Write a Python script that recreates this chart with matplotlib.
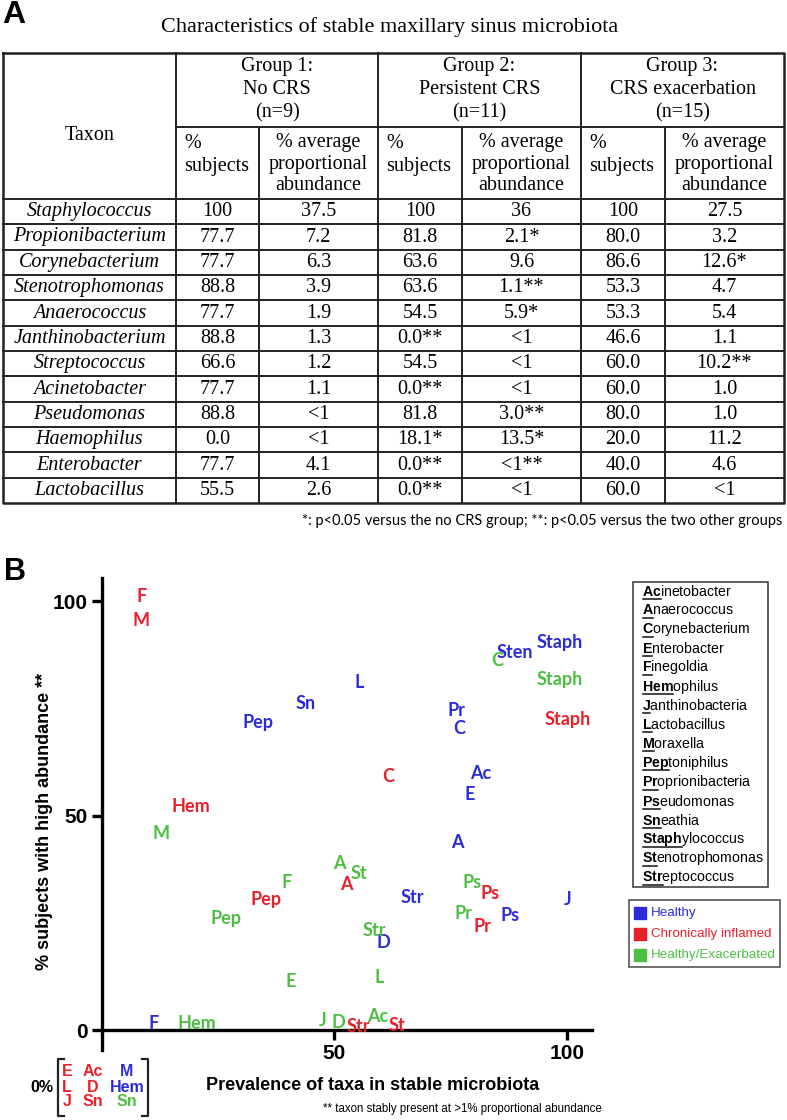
import numpy as np
import matplotlib
matplotlib.use('Agg')
import matplotlib.pyplot as plt

plt.rcParams['mathtext.fontset'] = 'custom'
plt.rcParams['mathtext.rm'] = 'Liberation Sans'
plt.rcParams['mathtext.bf'] = 'Liberation Sans:bold'
plt.rcParams['mathtext.it'] = 'Liberation Sans:italic'

# ---- panel A: table data ----
taxa = ['Staphylococcus', 'Propionibacterium', 'Corynebacterium', 'Stenotrophomonas',
        'Anaerococcus', 'Janthinobacterium', 'Streptococcus', 'Acinetobacter',
        'Pseudomonas', 'Haemophilus', 'Enterobacter', 'Lactobacillus']
g1_subj = ['100', '77.7', '77.7', '88.8', '77.7', '88.8', '66.6', '77.7', '88.8', '0.0', '77.7', '55.5']
g1_abund = ['37.5', '7.2', '6.3', '3.9', '1.9', '1.3', '1.2', '1.1', '<1', '<1', '4.1', '2.6']
g2_subj = ['100', '81.8', '63.6', '63.6', '54.5', '0.0**', '54.5', '0.0**', '81.8', '18.1*', '0.0**', '0.0**']
g2_abund = ['36', '2.1*', '9.6', '1.1**', '5.9*', '<1', '<1', '<1', '3.0**', '13.5*', '<1**', '<1']
g3_subj = ['100', '80.0', '86.6', '53.3', '53.3', '46.6', '60.0', '60.0', '80.0', '20.0', '40.0', '60.0']
g3_abund = ['27.5', '3.2', '12.6*', '4.7', '5.4', '1.1', '10.2**', '1.0', '1.0', '11.2', '4.6', '<1']
groups = ['Group 1:\nNo CRS\n(n=9)', 'Group 2:\nPersistent CRS\n(n=11)', 'Group 3:\nCRS exacerbation\n(n=15)']

# ---- panel B: label positions (prevalence %, % subjects with high abundance) ----
healthy_lab = ['Staph', 'Sten', 'L', 'Sn', 'Pep', 'Pr', 'C', 'Ac', 'E', 'A', 'Str', 'Ps', 'J', 'D', 'F']
healthy_x = [98.3, 88.8, 55.4, 43.8, 33.6, 76.3, 76.7, 81.5, 79.1, 76.3, 66.8, 87.7, 100, 60.6, 11.2]
healthy_y = [90.4, 88.1, 81.1, 76.2, 71.6, 74.4, 70.4, 59.9, 55.0, 43.8, 31.0, 26.6, 30.5, 20.4, 1.6]

inflamed_lab = ['F', 'M', 'Staph', 'C', 'Hem', 'A', 'Pep', 'Ps', 'Pr', 'Str', 'St']
inflamed_x = [8.6, 8.6, 100, 61.6, 19.2, 52.6, 35.3, 83.4, 81.7, 55.2, 63.4]
inflamed_y = [101.0, 95.5, 72.5, 59.0, 52.2, 34.0, 30.5, 31.9, 24.2, 0.8, 1.0]

exac_lab = ['C', 'Staph', 'M', 'A', 'St', 'F', 'Pep', 'Ps', 'Pr', 'Str', 'E', 'L', 'Hem', 'J', 'D', 'Ac']
exac_x = [84.9, 98.3, 12.7, 51.1, 55.2, 39.7, 26.7, 79.5, 77.8, 58.6, 40.7, 59.7, 20.5, 47.4, 50.9, 59.3]
exac_y = [86.2, 81.8, 45.9, 38.9, 36.6, 34.5, 25.9, 34.3, 27.2, 23.3, 11.3, 12.3, 1.6, 2.3, 1.8, 3.1]

# taxa never at high abundance (0%)
zero_red = ['E', 'L', 'J', 'Ac', 'D', 'Sn']
zero_blue = ['M', 'Hem']
zero_green = ['Sn']

key_prefix = ['Ac', 'A', 'C', 'E', 'F', 'Hem', 'J', 'L', 'M', 'Pep', 'Pr', 'Ps', 'Sn', 'Staph', 'St', 'Str']
key_rest = ['inetobacter', 'naerococcus', 'orynebacterium', 'nterobacter', 'inegoldia', 'ophilus',
            'anthinobacteria', 'actobacillus', 'oraxella', 'toniphilus', 'oprionibacteria', 'eudomonas',
            'eathia', 'ylococcus', 'enotrophomonas', 'eptococcus']
group_names = ['Healthy', 'Chronically inflamed', 'Healthy/Exacerbated']

BLUE = '#2b2bd8'
RED = '#e8202a'
GREEN = '#4cbf42'
SERIF = 'Liberation Serif'
SANS = 'Liberation Sans'
LAB = 'Lato'

fig = plt.figure(figsize=(7.87, 11.2), dpi=100)
ov = fig.add_axes([0, 0, 1, 1])
ov.set_xlim(0, 787)
ov.set_ylim(1120, 0)
ov.axis('off')

# ---------------- panel A ----------------
ov.text(2, 15, 'A', fontsize=23, fontweight='bold', family=SANS, va='center')
ov.text(390, 27, 'Characteristics of stable maxillary sinus microbiota',
        fontsize=16, family=SERIF, ha='center', va='center')

col_x = [3, 176, 259, 378, 462, 581, 665, 784]
top, mid, hdr = 53, 127, 199
rh = (503 - hdr) / len(taxa)
row_y = [hdr + i * rh for i in range(len(taxa) + 1)]
lc, lw = '#222222', 1.4

ov.plot([col_x[0], col_x[-1], col_x[-1], col_x[0], col_x[0]],
        [top, top, row_y[-1], row_y[-1], top], color=lc, lw=1.8)
for x in (col_x[1], col_x[3], col_x[5]):
    ov.plot([x, x], [top, row_y[-1]], color=lc, lw=lw)
for x in (col_x[2], col_x[4], col_x[6]):
    ov.plot([x, x], [mid, row_y[-1]], color=lc, lw=lw)
ov.plot([col_x[1], col_x[-1]], [mid, mid], color=lc, lw=lw)
for y in row_y[:-1]:
    ov.plot([col_x[0], col_x[-1]], [y, y], color=lc, lw=lw)

tfs = 14.5
ov.text((col_x[0] + col_x[1]) / 2, 136, 'Taxon', fontsize=tfs, family=SERIF,
        ha='center', va='center')
for g, name in enumerate(groups):
    cx = (col_x[1 + 2 * g] + col_x[3 + 2 * g]) / 2
    ov.text(cx, 90, name, fontsize=tfs, family=SERIF, ha='center', va='center',
            linespacing=1.3)
    ov.text(col_x[1 + 2 * g] + 8, 155, '%\nsubjects', fontsize=tfs, family=SERIF,
            ha='left', va='center', linespacing=1.3)
    ov.text((col_x[2 + 2 * g] + col_x[3 + 2 * g]) / 2, 164,
            '% average\nproportional\nabundance', fontsize=tfs, family=SERIF,
            ha='center', va='center', linespacing=1.17)

cols = [g1_subj, g1_abund, g2_subj, g2_abund, g3_subj, g3_abund]
for i, t in enumerate(taxa):
    yc = (row_y[i] + row_y[i + 1]) / 2
    ov.text((col_x[0] + col_x[1]) / 2, yc, t, fontsize=tfs, family=SERIF, style='italic',
            ha='center', va='center')
    for j, col in enumerate(cols):
        ov.text((col_x[j + 1] + col_x[j + 2]) / 2, yc, col[i], fontsize=tfs, family=SERIF,
                ha='center', va='center')

ov.text(782, 521, '*: p<0.05 versus the no CRS group; **: p<0.05 versus the two other groups',
        fontsize=10.5, family=LAB, ha='right', va='center')

# ---------------- panel B ----------------
ov.text(4, 572, 'B', fontsize=22, fontweight='bold', family=SANS, va='center')

# axes box: x 0..105.3 -> 101.5..592 px, y -4.66..105.4 -> 1050..578 px
ax = fig.add_axes([101.5 / 787, 1 - 1050 / 1120, (592 - 101.5) / 787, (1050 - 578) / 1120])
ax.set_xlim(0, 105.3)
ax.set_ylim(-4.66, 105.4)
ax.patch.set_alpha(0)
for s in ('top', 'right'):
    ax.spines[s].set_visible(False)
ax.spines['bottom'].set_position(('data', 0))
for s in ('left', 'bottom'):
    ax.spines[s].set_linewidth(2.4)
ax.set_xticks([50, 100])
ax.set_yticks([0, 50, 100])
ax.tick_params(width=2.4, length=7, pad=3)
for lab in ax.get_xticklabels() + ax.get_yticklabels():
    lab.set_fontweight('bold')
    lab.set_fontsize(15)
    lab.set_family(SANS)

kw = dict(fontsize=13, fontweight='bold', family=LAB, ha='center', va='center')
for lab, x, y in zip(healthy_lab, healthy_x, healthy_y):
    ax.text(x, y, lab, color=BLUE, **kw)
for lab, x, y in zip(inflamed_lab, inflamed_x, inflamed_y):
    ax.text(x, y, lab, color=RED, **kw)
for lab, x, y in zip(exac_lab, exac_x, exac_y):
    ax.text(x, y, lab, color=GREEN, **kw)

ov.text(45, 821, '% subjects with high abundance **', rotation=90, fontsize=13,
        fontweight='bold', family=SANS, ha='center', va='center')
ov.text(373, 1085, 'Prevalence of taxa in stable microbiota', fontsize=13,
        fontweight='bold', family=SANS, ha='center', va='center')
ov.text(602, 1109, '** taxon stably present at >1% proportional abundance', fontsize=8.3,
        family=SANS, ha='right', va='center')

# 0% bracket
ov.text(42, 1087, '0%', fontsize=11.5, fontweight='bold', family=SANS, ha='center', va='center')
ov.plot([64, 58, 58, 64], [1059, 1059, 1116, 1116], color='#222222', lw=1.6)
ov.plot([142, 148, 148, 142], [1059, 1059, 1116, 1116], color='#222222', lw=1.6)
bk = dict(fontsize=11.5, fontweight='bold', family=SANS, ha='center', va='center')
rows3 = [1072, 1087, 1102]
for k, lab in enumerate(zero_red):
    ov.text(67 if k < 3 else 93, rows3[k % 3], lab, color=RED, **bk)
for k, lab in enumerate(zero_blue):
    ov.text(127, rows3[k], lab, color=BLUE, **bk)
for k, lab in enumerate(zero_green):
    ov.text(127, rows3[2 + k], lab, color=GREEN, **bk)

# taxon abbreviation key (bold underlined abbreviation + rest of name)
ov.add_patch(plt.Rectangle((633, 582), 135, 305, fill=False, ec='#444444', lw=1.2))
renderer = fig.canvas.get_renderer()
kfs = 10.2
for k, (pre, rest) in enumerate(zip(key_prefix, key_rest)):
    y = 591 + k * 19.1
    probe = ov.text(642, y, r'$\mathbf{%s}$' % pre, fontsize=kfs, ha='left', va='center')
    w = probe.get_window_extent(renderer).width
    probe.remove()
    ov.text(642, y, r'$\mathbf{%s}$%s' % (pre, rest), fontsize=kfs, family=SANS,
            ha='left', va='center')
    ov.plot([642.5, 642 + w - 0.5], [y + 7.5, y + 7.5], color='#111111', lw=1.1)

# colour key
ov.add_patch(plt.Rectangle((629, 900), 151, 67, fill=False, ec='#555555', lw=1.2))
for k, (name, c) in enumerate(zip(group_names, [BLUE, RED, GREEN])):
    y = 913 + k * 21
    ov.add_patch(plt.Rectangle((634, y - 6), 12, 12, color=c))
    ov.text(651, y, name, fontsize=9.6, family=SANS, color=c, ha='left', va='center')

fig.savefig('out.png', dpi=100)
